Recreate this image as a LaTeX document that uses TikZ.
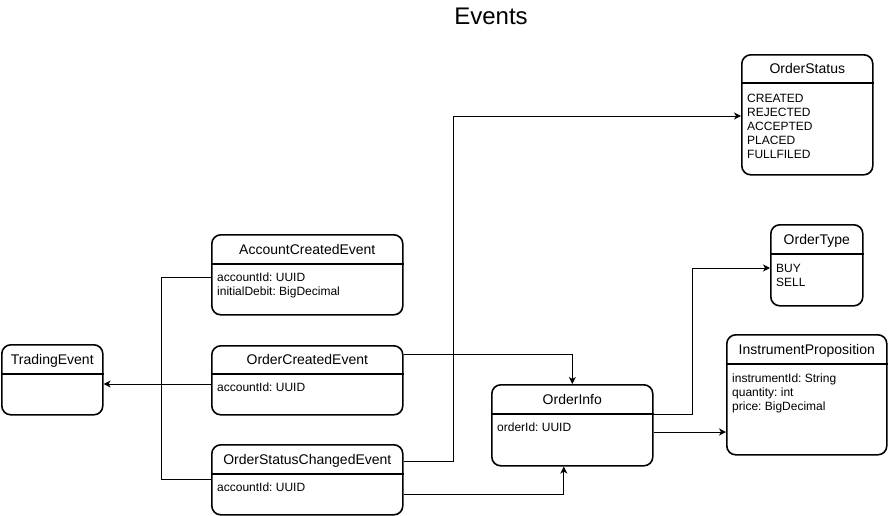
\documentclass[tikz,border=0pt]{standalone}
\usepackage{fontspec}
\setmainfont{Liberation Sans}
\usetikzlibrary{arrows.meta}
\frenchspacing
\tikzset{
  cls/.style={draw=black, line width=1.6pt, rounded corners=9pt, fill=white, inner sep=0pt, anchor=north west},
  hdr/.style={line width=1.4pt},
  ttl/.style={font=\fontsize{14pt}{16pt}\selectfont, text height=10pt, text depth=0pt, inner sep=0pt},
  body/.style={font=\fontsize{12pt}{14pt}\selectfont\frenchspacing, inner sep=0pt, anchor=base west},
  conn/.style={line width=1pt, draw=black},
  arr/.style={conn, -{Stealth[length=7pt,width=7pt,inset=2pt]}}
}
\newcommand{\attrs}[1]{\begin{tabular}[t]{@{}l@{}}#1\end{tabular}}
\begin{document}
\begin{tikzpicture}[x=1pt,y=-1pt]
\useasboundingbox (0,0) rectangle (888,515);
\node[font=\fontsize{24pt}{28pt}\selectfont, anchor=base, inner sep=0pt] (title) at (491,24) {Events};

% boxes
\node[cls, minimum width=101pt, minimum height=70pt] (te) at (1,344) {};
\node[cls, minimum width=191pt, minimum height=80pt] (ac) at (211,234) {};
\node[cls, minimum width=191pt, minimum height=69pt] (oc) at (211,345) {};
\node[cls, minimum width=191pt, minimum height=70pt] (os) at (211,444) {};
\node[cls, minimum width=161pt, minimum height=81pt] (oi) at (491,384) {};
\node[cls, minimum width=160pt, minimum height=120pt] (ip) at (726,334) {};
\node[cls, minimum width=131pt, minimum height=120pt] (ost) at (741,54) {};
\node[cls, minimum width=92pt, minimum height=81pt] (ot) at (770,224) {};

% header lines
\draw[hdr] ([yshift=-30pt]te.north west) -- ([yshift=-30pt]te.north east);
\draw[hdr] ([yshift=-30pt]ac.north west) -- ([yshift=-30pt]ac.north east);
\draw[hdr] ([yshift=-29pt]oc.north west) -- ([yshift=-29pt]oc.north east);
\draw[hdr] ([yshift=-30pt]os.north west) -- ([yshift=-30pt]os.north east);
\draw[hdr] ([yshift=-30pt]oi.north west) -- ([yshift=-30pt]oi.north east);
\draw[hdr] ([yshift=-30pt]ip.north west) -- ([yshift=-30pt]ip.north east);
\draw[hdr] ([yshift=-29pt]ost.north west) -- ([yshift=-29pt]ost.north east);
\draw[hdr] ([yshift=-30pt]ot.north west) -- ([yshift=-30pt]ot.north east);

% titles
\node[ttl] (te-t) at ([yshift=-15pt]te.north) {TradingEvent};
\node[ttl] (ac-t) at ([yshift=-15pt]ac.north) {AccountCreatedEvent};
\node[ttl] (oc-t) at ([yshift=-14.5pt]oc.north) {OrderCreatedEvent};
\node[ttl] (os-t) at ([yshift=-15pt]os.north) {OrderStatusChangedEvent};
\node[ttl] (oi-t) at ([yshift=-15pt]oi.north) {OrderInfo};
\node[ttl] (ip-t) at ([yshift=-15pt]ip.north) {InstrumentProposition};
\node[ttl] (ost-t) at ([yshift=-14.5pt]ost.north) {OrderStatus};
\node[ttl] (ot-t) at ([yshift=-15pt]ot.north) {OrderType};

% attributes
\node[body] (ac-a) at ([xshift=6pt,yshift=-47pt]ac.north west) {\attrs{accountId: UUID\\initialDebit: BigDecimal}};
\node[body] (oc-a) at ([xshift=6pt,yshift=-46pt]oc.north west) {\attrs{accountId: UUID}};
\node[body] (os-a) at ([xshift=6pt,yshift=-47pt]os.north west) {\attrs{accountId: UUID}};
\node[body] (oi-a) at ([xshift=6pt,yshift=-47pt]oi.north west) {\attrs{orderId: UUID}};
\node[body] (ip-a) at ([xshift=6pt,yshift=-48pt]ip.north west) {\attrs{instrumentId: String\\quantity: int\\price: BigDecimal}};
\node[body] (ost-a) at ([xshift=6pt,yshift=-48pt]ost.north west) {\attrs{CREATED\\REJECTED\\ACCEPTED\\PLACED\\FULLFILED}};
\node[body] (ot-a) at ([xshift=6pt,yshift=-48pt]ot.north west) {\attrs{BUY\\SELL}};

% connectors
\draw[conn] ([yshift=-43pt]ac.north west) -- ++(-50,0) |- ([yshift=-35pt]os.north west);
\draw[arr] ([yshift=-39pt]oc.north west) -- ([yshift=-40pt]te.north east);
\draw[arr] ([yshift=-9pt]oc.north east) -| (oi.north);
\draw[arr] ([yshift=-17pt]os.north east) -- ++(50,0) |- ([yshift=-62pt]ost.north west);
\draw[arr] ([yshift=-50pt]os.north east) -| ([xshift=-8.5pt]oi.south);
\draw[arr] ([yshift=-30pt]oi.north east) -- ++(39,0) |- ([yshift=-44pt]ot.north west);
\draw[arr] ([yshift=-48pt]oi.north east) -- ([yshift=-98pt]ip.north west);
\end{tikzpicture}
\end{document}
